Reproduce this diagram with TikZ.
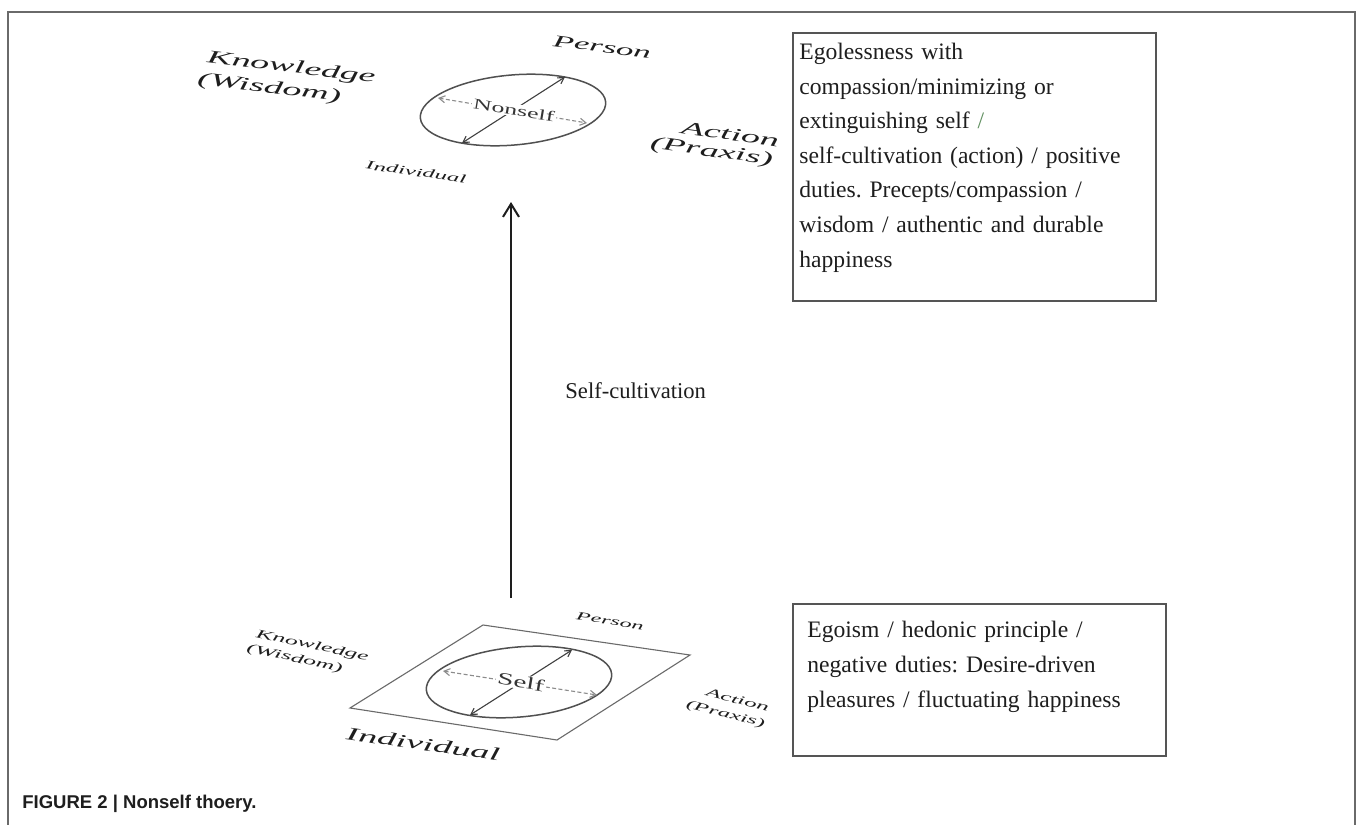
\documentclass[tikz,border=0pt]{standalone}
\usepackage{fontspec}
\setmainfont{Liberation Serif}
\newfontfamily\capfont{Liberation Sans}
\usetikzlibrary{shapes.geometric,arrows.meta}
\definecolor{ink}{HTML}{1E1E1E}
\definecolor{framegray}{HTML}{6A6A6A}
\definecolor{boxgray}{HTML}{555555}
\definecolor{discgray}{HTML}{505050}
\definecolor{axisgray}{HTML}{8C8C8C}
\definecolor{slashgreen}{HTML}{5F8F5F}
\frenchspacing
\begin{document}
\begin{tikzpicture}[x=0.5pt,y=-0.5pt,
  frameline/.style={draw=framegray, line width=1pt},
  infobox/.style={draw=boxgray, line width=0.8pt, inner sep=0pt, anchor=north west},
  boxtext/.style={text=ink, inner sep=0pt, anchor=north west, align=left},
  disc/.style={ellipse, draw=discgray, line width=0.75pt, minimum width=93pt,
    minimum height=35pt, inner sep=0pt, rotate=5},
  solidaxis/.style={draw=ink!85, line width=0.55pt,
    {Straight Barb[length=3pt,width=3.5pt]}-{Straight Barb[length=3pt,width=3.5pt]}},
  dashaxis/.style={draw=axisgray, line width=0.55pt, dash pattern=on 2pt off 1.2pt,
    {Straight Barb[length=3pt,width=3.5pt]}-{Straight Barb[length=3pt,width=3.5pt]}},
  disctext/.style 2 args={fill=white, text=ink!90, inner sep=0.6pt,
    font=\fontsize{#1}{#1}\selectfont, rotate=#2, xscale=1.4, yscale=0.8},
  % labels lying in the plane of a disc: stretched, flattened and tilted
  planelabel/.style n args={3}{text=ink, inner sep=0pt,
    font=\itshape\fontsize{#1}{#2}\selectfont, rotate=#3, xscale=1.45, yscale=0.7},
  plate/.style={draw=framegray, line width=0.55pt, line join=miter},
  growth/.style={draw=ink, line width=1pt, -{Straight Barb[length=6.5pt,width=8pt]}}
]
\useasboundingbox (0,0) rectangle (1357,825);
\fill[white] (0,0) rectangle (1357,825);

% outer frame (open at the bottom)
\draw[frameline] (8,830) -- (8,12) -- (1355,12) -- (1355,830);

% ---------- upper disc: Nonself ----------
\node[disc] (nsdisc) at (513,110) {};
\coordinate (nsSW) at ([shift={(-51,33)}]nsdisc.center);
\coordinate (nsNE) at ([shift={(52,-33)}]nsdisc.center);
\coordinate (nsW) at ([shift={(-75,-12)}]nsdisc.center);
\coordinate (nsE) at ([shift={(74,13)}]nsdisc.center);
\draw[dashaxis] (nsW) -- (nsE);
\draw[solidaxis] (nsSW) -- (nsNE);
\node[disctext={9.25}{-9.5}] (nslabel) at (514,110) {Nonself};

\node[planelabel={13}{16.5}{-7}, align=left] (knowTop) at (289.6,79.5)
  {Knowledge\\\hspace*{-2.3pt}(Wisdom)};
\node[planelabel={12}{12}{-7}] (personTop) at (602,47) {Person};
\node[planelabel={13}{13.6}{-8}, align=right] (actTop) at (714.4,143.4)
  {Action\\(Praxis)\hspace*{1.2pt}};
\node[planelabel={8.5}{8.5}{-8}] (indTop) at (416,172) {Individual};

% ---------- lower disc on its plate: Self ----------
\coordinate (plL) at (350,708);
\coordinate (plT) at (483,625);
\coordinate (plR) at (690,655);
\coordinate (plB) at (557,740);
\draw[plate] (plL) -- (plT) -- (plR) -- (plB) -- cycle;

\node[disc] (sdisc) at (519,682) {};
\coordinate (sSW) at ([shift={(-49,33)}]sdisc.center);
\coordinate (sNE) at ([shift={(53,-32)}]sdisc.center);
\coordinate (sW) at ([shift={(-76,-11)}]sdisc.center);
\coordinate (sE) at ([shift={(78,13)}]sdisc.center);
\draw[dashaxis] (sW) -- (sE);
\draw[solidaxis] (sSW) -- (sNE);
\node[disctext={10.5}{-9.5}] (slabel) at (521,682) {Self};

\node[planelabel={8.3}{8.3}{-9}] (personBot) at (610,621) {Person};
\node[planelabel={8.8}{11.5}{-12}, align=left] (knowBot) at (310.5,654)
  {Knowledge\\\hspace*{-2.1pt}(Wisdom)};
\node[planelabel={13}{13}{-8}] (indBot) at (423,744) {Individual};
\node[planelabel={8.5}{11.5}{-14}, align=right] (actBot) at (727.3,707)
  {Action\\(Praxis)};

% ---------- self-cultivation arrow ----------
\coordinate (cultFoot) at (511,598);
\coordinate (cultHead) at (511,202);
\draw[growth] (cultFoot) -- (cultHead);
\node[anchor=base west, inner sep=0pt, text=ink, font=\fontsize{11.3}{13}\selectfont]
  (cultlabel) at (565,398) {Self-cultivation};

% ---------- description boxes ----------
\node[infobox, minimum width=181.5pt, minimum height=134pt] (nsbox) at (792,32) {};
\node[boxtext, text width=175pt, font=\fontsize{11.8}{17.3}\selectfont]
  (nsdesc) at (799,34.8) {\strut Egolessness with\\
  compassion/minimizing or\\
  extinguishing self {\color{slashgreen}/}\\
  self-cultivation (action) / positive\\
  duties. Precepts/compassion /\\
  wisdom / authentic and durable\\
  happiness};

\node[infobox, minimum width=186.5pt, minimum height=76pt] (sbox) at (792,603) {};
\node[boxtext, text width=180pt, font=\fontsize{11.8}{17.5}\selectfont]
  (sdesc) at (807,612.8) {\strut Egoism / hedonic principle /\\
  negative duties: Desire-driven\\
  pleasures / fluctuating happiness};

% ---------- caption ----------
\node[anchor=base west, inner sep=0pt, text=ink, font=\capfont\bfseries\fontsize{9.25}{11}\selectfont]
  (caption) at (22,808) {FIGURE 2 | Nonself thoery.};
\end{tikzpicture}
\end{document}
